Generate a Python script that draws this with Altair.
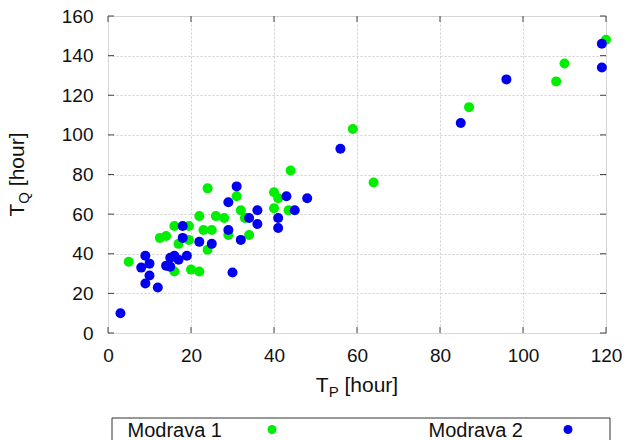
import altair as alt
import pandas as pd

# ---------------- data ----------------
series_names = ["Modrava 1", "Modrava 2"]
series_colors = ["#00ee00", "#0000ee"]

m1_x = [5, 12.5, 14, 16, 19.5, 17, 19.5, 16, 20, 22, 22, 26, 28, 23, 25, 24, 24, 31, 32, 33,
        29, 34, 40, 41, 40, 43.5, 44, 59, 64, 87, 108, 110, 120]
m1_y = [36, 48, 49, 54, 54, 45, 47, 31, 32, 31, 59, 59, 58, 52, 52, 42, 73, 69, 62, 58,
        49.5, 49.5, 71, 68, 63, 62, 82, 103, 76, 114, 127, 136, 148]

m2_x = [3, 8, 9, 10, 10, 9, 12, 14, 15, 15, 16, 17, 19, 18, 18, 22, 25, 29, 32, 29,
        31, 30, 34, 36, 36, 41, 41, 43, 45, 48, 56, 85, 96, 119, 119]
m2_y = [10, 33, 39, 35, 29, 25, 23, 34, 38, 33.5, 39, 37, 39, 54, 48, 46, 45, 52, 47, 66,
        74, 30.5, 58, 62, 55, 58, 53, 69, 62, 68, 93, 106, 128, 146, 134]

x_ticks = [0, 20, 40, 60, 80, 100, 120]
y_ticks = [0, 20, 40, 60, 80, 100, 120, 140, 160]

x_title = ("T", "P", "[hour]")
y_title = ("T", "Q", "[hour]")

# ---------------- layout ----------------
W, H = 498, 317
FONT = "Liberation Sans"
TFS, SFS = 21, 15          # title font size / subscript size
TICK = 6
FRAME = "#333333"

# Arial/Liberation Sans advance widths (em)
adv = {"T": 0.611, "P": 0.667, "Q": 0.778, " ": 0.278, "[": 0.278, "h": 0.556,
       "o": 0.556, "u": 0.556, "r": 0.333, "]": 0.278}


def width(s, fs):
    return sum(adv.get(c, 0.556) for c in s) * fs


SPACE = 0.278 * TFS

df = pd.DataFrame({
    "x": m1_x + m2_x,
    "y": m1_y + m2_y,
    "series": [series_names[0]] * len(m1_x) + [series_names[1]] * len(m2_x),
})

xscale = alt.Scale(domain=[0, 120], nice=False, zero=False)
yscale = alt.Scale(domain=[0, 160], nice=False, zero=False)

axis_common = dict(grid=True, gridColor="#cfcfcf", gridDash=[2, 2], gridWidth=1,
                   ticks=False, tickSize=0, domain=False, title=None,
                   labelFlush=False, labelOverlap=False,
                   labelFont=FONT, labelFontSize=19, labelColor="#111111")
x_axis = alt.Axis(values=x_ticks, labelPadding=13, **axis_common)
y_axis = alt.Axis(values=y_ticks, labelPadding=15, **axis_common)

points = alt.Chart(df).mark_circle(size=100, opacity=1).encode(
    x=alt.X("x:Q", scale=xscale, axis=x_axis),
    y=alt.Y("y:Q", scale=yscale, axis=y_axis),
    color=alt.Color("series:N", scale=alt.Scale(domain=series_names, range=series_colors),
                    legend=None),
    order=alt.Order("series:N"),
)

xt = pd.DataFrame({"x": x_ticks})
yt = pd.DataFrame({"y": y_ticks})
tick_style = dict(color="#444444", strokeWidth=1)

ticks_bottom = alt.Chart(xt).mark_rule(**tick_style).encode(
    x=alt.X("x:Q", scale=xscale, axis=x_axis), y=alt.value(H), y2=alt.value(H - TICK))
ticks_top = alt.Chart(xt).mark_rule(**tick_style).encode(
    x=alt.X("x:Q", scale=xscale, axis=x_axis), y=alt.value(0), y2=alt.value(TICK))
ticks_left = alt.Chart(yt).mark_rule(**tick_style).encode(
    y=alt.Y("y:Q", scale=yscale, axis=y_axis), x=alt.value(0), x2=alt.value(TICK))
ticks_right = alt.Chart(yt).mark_rule(**tick_style).encode(
    y=alt.Y("y:Q", scale=yscale, axis=y_axis), x=alt.value(W - TICK), x2=alt.value(W))

one = pd.DataFrame({"a": [0]})


def text_piece(txt, x, y, fs, dx=0, dy=0, angle=0, align="left"):
    kw = dict(text=txt, font=FONT, fontSize=fs, color="#111111", align=align,
              baseline="alphabetic", dx=dx, dy=dy)
    if angle:
        kw["angle"] = angle
    return alt.Chart(one).mark_text(**kw).encode(x=alt.value(x), y=alt.value(y))


# x-axis title  T_P [hour]
w_main = width(x_title[0], TFS)
w_sub = width(x_title[1], SFS)
w_rest = width(x_title[2], TFS)
total_x = w_main + w_sub + SPACE + w_rest
xt_start = W / 2 - total_x / 2
xt_base = 376
x_title_layers = [
    text_piece(x_title[0], xt_start, xt_base, TFS),
    text_piece(x_title[1], xt_start, xt_base, SFS, dx=w_main, dy=5),
    text_piece(x_title[2], xt_start, xt_base, TFS, dx=w_main + w_sub + SPACE),
]

# y-axis title  T_Q [hour]  (rotated, reading upward)
w_main_y = width(y_title[0], TFS)
w_sub_y = width(y_title[1], SFS)
w_rest_y = width(y_title[2], TFS)
total_y = w_main_y + w_sub_y + SPACE + w_rest_y
yt_start = H / 2 + total_y / 2
yt_base = -84.5
y_title_layers = [
    text_piece(y_title[0], yt_base, yt_start, TFS, angle=270),
    text_piece(y_title[1], yt_base, yt_start, SFS, dx=w_main_y, dy=5, angle=270),
    text_piece(y_title[2], yt_base, yt_start, TFS, dx=w_main_y + w_sub_y + SPACE, angle=270),
]

# legend box below the plot
legend_box = alt.Chart(one).mark_rect(fill="white", stroke=FRAME, strokeWidth=1).encode(
    x=alt.value(4), x2=alt.value(502), y=alt.value(402), y2=alt.value(440))
legend_layers = [legend_box]
leg_text_right = [114, 415]
leg_dot_x = [164, 460]
for name, col, tx, dxp in zip(series_names, series_colors, leg_text_right, leg_dot_x):
    legend_layers.append(text_piece(name, tx, 421, 20, align="right"))
    legend_layers.append(
        alt.Chart(one).mark_circle(size=80, opacity=1, color=col).encode(
            x=alt.value(dxp), y=alt.value(413.5)))

chart = alt.layer(
    points, ticks_bottom, ticks_top, ticks_left, ticks_right,
    *x_title_layers, *y_title_layers, *legend_layers
).properties(
    width=W, height=H,
    autosize=alt.AutoSizeParams(type="none"),
    padding={"left": 108, "top": 16, "right": 23, "bottom": 107},
    background="white",
).configure_view(
    stroke=FRAME, strokeWidth=1
).configure(font=FONT)

chart.save("out.html", embed_options={"renderer": "svg", "actions": False})
